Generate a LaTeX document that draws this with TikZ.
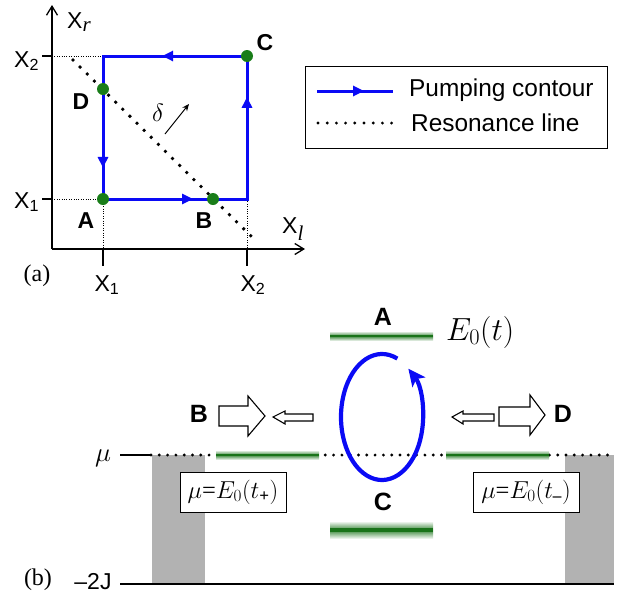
\RequirePackage{fix-cm}
\documentclass[tikz,border=0pt]{standalone}
\usepackage{amsmath}
\usepackage{fontspec}
\setmainfont{Liberation Serif}
\setsansfont{Liberation Sans}
\usetikzlibrary{arrows.meta,decorations.markings}
\definecolor{dotgreen}{RGB}{25,125,25}
\definecolor{bargreen}{RGB}{25,115,25}
\definecolor{wallgray}{RGB}{178,178,178}
\definecolor{pumpblue}{RGB}{10,10,245}
\tikzset{
  sflab/.style={font=\sffamily\fontsize{23}{23}\selectfont},
  bflab/.style={font=\sffamily\bfseries\fontsize{23}{23}\selectfont},
  bflabb/.style={font=\sffamily\bfseries\fontsize{25}{25}\selectfont},
  rmlab/.style={font=\rmfamily\fontsize{24}{24}\selectfont},
  axisline/.style={line width=1.3pt, -{Straight Barb[length=9pt,width=11pt,line width=1.3pt]}},
  guide/.style={line width=0.7pt, dash pattern=on 0.8pt off 1.6pt},
  contour/.style={pumpblue, line width=3pt, line join=miter},
  resdots/.style={line width=3.8pt, line cap=round, dash pattern=on 0pt off 10pt},
  mudots/.style={line width=3.2pt, line cap=round, dash pattern=on 0pt off 8.3pt},
  gdot/.style={dotgreen},
  blockarrow/.style={draw=black, fill=white, line width=1.1pt, line join=miter},
  eqbox/.style={draw, line width=0.9pt, minimum width=106pt, minimum height=40pt, inner sep=1pt, font=\fontsize{24.5}{24.5}\selectfont},
  tri/.tip={Triangle[length=11pt,width=10pt]},
}
\newcommand{\greenbar}[5]{% x1, x2, y, halfheight, core width
  \shade[top color=white, bottom color=white, middle color=bargreen!85] (#1,#3-#4) rectangle (#2,#3+#4);
  \draw[bargreen, line width=#5] (#1,#3) -- (#2,#3);}
\begin{document}
\begin{tikzpicture}[x=1pt,y=-1pt]
\useasboundingbox (0,0) rectangle (630,600);
% ---------------- panel (a) ----------------
\coordinate (O) at (52,249);
\coordinate (ytop) at (52,5);
\coordinate (xend) at (305,249);
\draw[axisline] (O) -- (ytop);
\draw[axisline] (O) -- (xend);
\node[sflab, anchor=west, inner sep=0pt] (Xr) at (67,22) {X\textsubscript{\rmfamily\itshape\fontsize{21}{21}\selectfont r}};
\node[sflab, anchor=west, inner sep=0pt] (Xl) at (282,229) {X\textsubscript{\rmfamily\itshape\fontsize{21}{21}\selectfont l}};
% ticks
\coordinate (tx1a) at (103,249); \coordinate (tx1b) at (103,266);
\coordinate (tx2a) at (247,249); \coordinate (tx2b) at (247,266);
\coordinate (ty2a) at (42,56); \coordinate (ty2b) at (52,56);
\coordinate (ty1a) at (42,199); \coordinate (ty1b) at (52,199);
\draw[line width=1.3pt] (tx1a) -- (tx1b) (tx2a) -- (tx2b) (ty2a) -- (ty2b) (ty1a) -- (ty1b);
\node[sflab, anchor=base] (lx1) at (107,291) {X\textsubscript{1}};
\node[sflab, anchor=base] (lx2) at (253,291) {X\textsubscript{2}};
\node[sflab, anchor=base west, inner sep=0pt] (ly2) at (14,67) {X\textsubscript{2}};
\node[sflab, anchor=base west, inner sep=0pt] (ly1) at (14,208) {X\textsubscript{1}};
% contour corners
\coordinate (TL) at (103,56);
\coordinate (BL) at (103,199);
\coordinate (BR) at (247,199);
\coordinate (TR) at (247,56);
\draw[guide] (ty2b) -- (TL) (ty1b) -- (BL) (BL) -- (tx1a) (BR) -- (tx2a);
% resonance line
\coordinate (r1) at (73,60);
\coordinate (r2) at (255,240);
\draw[resdots] (r1) -- (r2);
\draw[contour, postaction={decorate}, decoration={markings,
   mark=at position 0.195 with {\arrow{tri}},
   mark=at position 0.406 with {\arrow{tri}},
   mark=at position 0.678 with {\arrow{tri}},
   mark=at position 0.897 with {\arrow{tri}}}]
   (TL) -- (BL) -- (BR) -- (TR) -- cycle;
% points
\coordinate (pA) at (103,199);
\coordinate (pB) at (213,199);
\coordinate (pC) at (247,56);
\coordinate (pD) at (103,89);
\foreach \p in {pA,pB,pC,pD} \fill[gdot] (\p) circle (6pt);
\node[bflab] (lA) at (86,221) {A};
\node[bflab] (lB) at (204,221) {B};
\node[bflab] (lC) at (265,43) {C};
\node[bflab] (lD) at (81,102) {D};
\node[font=\fontsize{25}{25}\selectfont] (delta) at (158,113) {$\delta$};
\coordinate (da) at (165,134); \coordinate (db) at (189,104);
\draw[line width=1pt, -{Stealth[length=7pt,width=6pt]}] (da) -- (db);
\node[rmlab] (pa) at (37,276) {(a)};
% legend
\node[draw, line width=0.9pt, minimum width=302pt, minimum height=82pt, inner sep=0pt] (legend) at (456,107) {};
\coordinate (lg1) at (317,91); \coordinate (lg2) at (393,91);
\draw[contour, postaction={decorate}, decoration={markings, mark=at position 0.62 with {\arrow{tri}}}] (lg1) -- (lg2);
\coordinate (lr1) at (318,123); \coordinate (lr2) at (392,123);
\draw[line width=3.2pt, line cap=round, dash pattern=on 0pt off 9.2pt] (lr1) -- (lr2);
\node[font=\sffamily\fontsize{24.4}{24.4}\selectfont, anchor=west, inner sep=0pt] (lt1) at (409,90) {Pumping contour};
\node[font=\sffamily\fontsize{24.4}{24.4}\selectfont, anchor=west, inner sep=0pt] (lt2) at (411,123) {Resonance line};
% ---------------- panel (b) ----------------
\fill[wallgray] (152,455) rectangle (205,584);
\fill[wallgray] (565,455) rectangle (614,584);
\coordinate (mu0) at (120,455); \coordinate (mu1) at (151,455); \coordinate (mu2) at (614,455);
\draw[line width=1.2pt] (mu0) -- (mu1);
\draw[mudots] (mu1) -- (mu2);
\coordinate (b0) at (120,584); \coordinate (b1) at (614,584);
\draw[line width=1.2pt] (b0) -- (b1);
\node[font=\fontsize{27}{27}\selectfont] (mulab) at (103,458) {$\mu$};
\node[sflab] (twoJ) at (93,582) {\textendash 2J};
\node[rmlab] (pb) at (38,580) {(b)};
% levels
\greenbar{216}{319}{455}{5}{2.4pt}
\greenbar{446}{549}{455}{5}{2.4pt}
\greenbar{330}{433}{336}{5}{2.4pt}
\greenbar{330}{433}{530}{9}{4pt}
\node[bflabb] (bA) at (383,317) {A};
\node[bflabb] (bC) at (383,502) {C};
\node[bflabb] (bB) at (199,414) {B};
\node[bflabb] (bD) at (563,414) {D};
\node[anchor=west, inner sep=0pt, font=\fontsize{32}{32}\selectfont] (E0) at (446,332) {$E_0(t)$};
% pumping loop
\coordinate (ec) at (382,417);
\draw[pumpblue, line width=4.2pt, -{Stealth[length=17pt,width=16pt,inset=4pt]}]
  ([shift={(-68:41 and 63)}]ec) arc[start angle=-68, end angle=-410, x radius=41, y radius=63];
% block arrows
\draw[blockarrow] (219,406) -- (248,406) -- (248,396) -- (265,416) -- (248,436) -- (248,426) -- (219,426) -- cycle;
\draw[blockarrow] (273,417) -- (285,411) -- (285,414) -- (313,414) -- (313,421) -- (285,421) -- (285,424) -- cycle;
\draw[blockarrow] (452,417) -- (463,411) -- (463,414) -- (494,414) -- (494,421) -- (463,421) -- (463,424) -- cycle;
\draw[blockarrow] (499,407) -- (530,407) -- (530,395) -- (545,415) -- (530,435) -- (530,426) -- (499,426) -- cycle;
% equation boxes
\node[eqbox, fill=white] (boxp) at (233,492) {$\mu$=$E_0(t_{\textbf{+}})$};
\node[eqbox, fill=white] (boxm) at (526,492) {$\mu$=$E_0(t_{\textbf{\textendash}})$};
\end{tikzpicture}
\end{document}
